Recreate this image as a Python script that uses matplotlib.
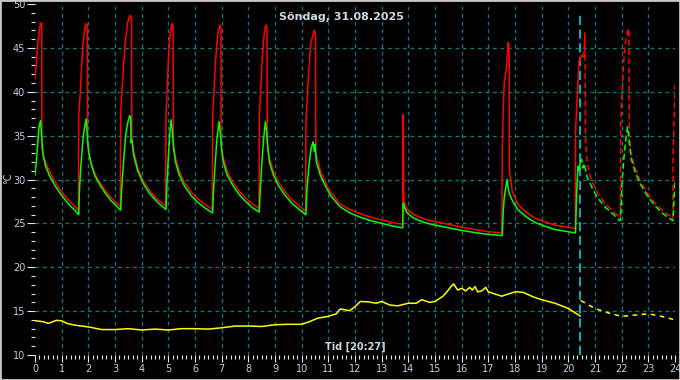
#!/usr/bin/env python

import numpy as np
import matplotlib
matplotlib.use("Agg")
import matplotlib.pyplot as plt
from matplotlib.ticker import MultipleLocator
from matplotlib.patches import Rectangle

# current time 20:27 -> data after this is drawn dashed
NOW = 20.45
title = "Söndag, 31.08.2025"
xlabel = "Tid [20:27]"
ylabel = "°C"

# (hour, degC)
red = [
    (0.0, 41.5), (0.05, 43.0), (0.1, 45.5), (0.15, 46.5), (0.2, 47.8), (0.25, 47.8), (0.26, 33.5),
    (0.35, 32.4), (0.5, 31.2), (0.7, 30.0), (0.9, 29.0), (1.1, 28.2), (1.3, 27.5), (1.5, 26.9), (1.63, 26.5),
    (1.64, 37.3), (1.7, 40.0), (1.75, 43.0), (1.8, 45.5), (1.87, 47.3), (1.92, 47.8), (1.96, 47.6), (1.97, 34.0),
    (2.05, 32.6), (2.2, 31.0), (2.4, 29.8), (2.6, 28.9), (2.8, 28.1), (3.0, 27.5), (3.2, 26.9),
    (3.21, 37.5), (3.27, 40.5), (3.33, 43.5), (3.4, 46.0), (3.47, 47.8), (3.53, 48.5), (3.58, 48.7), (3.62, 48.4),
    (3.63, 35.0), (3.7, 33.2), (3.85, 31.3), (4.05, 29.9), (4.3, 28.7), (4.6, 27.7), (4.9, 27.0),
    (4.91, 37.0), (4.96, 40.5), (5.0, 43.5), (5.05, 46.0), (5.1, 47.2), (5.14, 47.8), (5.18, 47.5), (5.19, 34.0),
    (5.27, 32.5), (5.4, 31.0), (5.6, 29.7), (5.85, 28.6), (6.1, 27.8), (6.4, 27.1), (6.65, 26.6),
    (6.66, 37.0), (6.71, 40.0), (6.76, 43.0), (6.82, 45.5), (6.88, 47.0), (6.94, 47.6), (6.97, 47.3), (6.98, 34.0),
    (7.06, 32.5), (7.2, 31.0), (7.4, 29.8), (7.65, 28.7), (7.9, 27.9), (8.15, 27.2), (8.4, 26.7),
    (8.41, 37.0), (8.46, 40.0), (8.51, 43.0), (8.56, 45.5), (8.61, 47.0), (8.66, 47.6), (8.7, 47.3), (8.71, 34.0),
    (8.79, 32.5), (8.93, 31.0), (9.13, 29.7), (9.38, 28.6), (9.63, 27.7), (9.9, 27.0), (10.15, 26.4),
    (10.16, 36.5), (10.22, 40.0), (10.28, 43.0), (10.34, 45.5), (10.4, 46.2), (10.47, 47.0), (10.52, 46.5),
    (10.53, 33.0), (10.7, 31.0), (10.9, 29.6), (11.1, 28.5), (11.44, 27.2), (11.8, 26.6), (12.2, 26.1),
    (12.6, 25.7), (13.0, 25.4), (13.4, 25.1), (13.79, 24.9),
    (13.8, 37.4), (13.81, 37.4), (13.83, 27.6), (13.95, 26.6), (14.2, 26.0), (14.6, 25.5), (15.0, 25.2),
    (15.5, 24.9), (16.0, 24.55), (16.5, 24.3), (17.0, 24.05), (17.51, 23.9),
    (17.52, 33.1), (17.56, 38.0), (17.6, 41.3), (17.65, 42.0), (17.7, 43.5), (17.74, 45.6), (17.78, 45.0),
    (17.79, 31.0), (17.9, 28.6), (18.1, 27.2), (18.4, 26.3), (18.75, 25.6), (19.1, 25.2), (19.5, 24.8),
    (19.9, 24.6), (20.26, 24.45),
    (20.27, 35.3), (20.31, 38.0), (20.36, 41.0), (20.4, 43.4), (20.45, 43.8), (20.5, 44.2), (20.58, 43.8),
    (20.62, 46.7), (20.65, 34.2), (20.7, 32.0), (20.8, 30.5), (20.95, 29.3), (21.15, 28.2), (21.4, 27.2),
    (21.7, 26.3), (21.95, 25.6),
    (21.96, 36.0), (22.0, 39.0), (22.05, 42.0), (22.1, 44.5), (22.15, 45.8), (22.22, 46.8), (22.27, 47.2),
    (22.29, 35.0), (22.35, 33.0), (22.5, 31.3), (22.7, 29.8), (22.95, 28.5), (23.25, 27.3), (23.55, 26.4),
    (23.92, 25.6), (23.93, 33.0), (23.97, 37.0), (24.0, 40.8),
]

green = [
    (0.0, 30.5), (0.05, 32.0), (0.1, 34.0), (0.15, 36.0), (0.21, 36.7), (0.25, 35.0), (0.3, 32.8),
    (0.4, 31.5), (0.55, 30.4), (0.75, 29.3), (0.95, 28.4), (1.15, 27.6), (1.35, 26.9), (1.5, 26.5), (1.63, 26.0),
    (1.64, 26.0), (1.67, 29.0), (1.72, 31.5), (1.78, 34.0), (1.85, 35.8), (1.92, 36.9), (1.97, 34.5),
    (2.02, 33.0), (2.1, 31.8), (2.25, 30.4), (2.45, 29.3), (2.65, 28.4), (2.85, 27.6), (3.05, 27.0), (3.2, 26.5),
    (3.21, 26.5), (3.25, 29.0), (3.32, 32.0), (3.4, 35.0), (3.48, 36.5), (3.55, 37.3), (3.59, 37.0),
    (3.6, 34.2), (3.63, 34.5), (3.7, 32.8), (3.85, 31.0), (4.05, 29.6), (4.3, 28.4), (4.6, 27.4), (4.9, 26.6),
    (4.91, 26.6), (4.95, 29.5), (5.0, 32.5), (5.05, 35.0), (5.1, 36.8), (5.15, 35.5), (5.2, 33.5),
    (5.27, 32.0), (5.4, 30.6), (5.6, 29.3), (5.85, 28.2), (6.1, 27.4), (6.4, 26.7), (6.65, 26.2),
    (6.66, 26.2), (6.7, 29.0), (6.76, 32.0), (6.82, 34.5), (6.9, 36.6), (6.95, 35.3), (7.0, 33.3),
    (7.06, 32.0), (7.2, 30.6), (7.4, 29.4), (7.65, 28.3), (7.9, 27.5), (8.15, 26.8), (8.4, 26.3),
    (8.41, 26.3), (8.45, 29.0), (8.51, 32.0), (8.57, 34.5), (8.64, 36.6), (8.69, 35.3), (8.74, 33.3),
    (8.79, 32.0), (8.93, 30.6), (9.13, 29.3), (9.38, 28.2), (9.63, 27.3), (9.9, 26.6), (10.15, 26.0),
    (10.16, 26.0), (10.2, 29.0), (10.27, 31.5), (10.35, 33.5), (10.43, 34.3), (10.47, 33.2), (10.5, 34.0),
    (10.55, 32.0), (10.7, 30.5), (10.9, 29.2), (11.1, 28.1), (11.44, 26.9), (11.8, 26.2), (12.2, 25.7),
    (12.6, 25.3), (13.0, 25.0), (13.4, 24.7), (13.79, 24.5),
    (13.8, 27.2), (13.82, 27.3), (13.86, 26.8), (13.95, 26.2), (14.2, 25.6), (14.6, 25.1), (15.0, 24.8),
    (15.5, 24.5), (16.0, 24.2), (16.5, 23.95), (17.0, 23.75), (17.51, 23.6),
    (17.52, 23.6), (17.56, 26.5), (17.6, 28.0), (17.65, 29.0), (17.7, 30.0), (17.75, 28.8), (17.8, 28.3),
    (17.9, 27.6), (18.1, 26.6), (18.4, 25.8), (18.75, 25.1), (19.1, 24.7), (19.5, 24.3), (19.9, 24.1),
    (20.26, 23.9),
    (20.27, 24.0), (20.31, 28.4), (20.36, 31.5), (20.4, 31.0), (20.45, 32.0), (20.5, 32.3), (20.55, 31.3),
    (20.6, 31.8), (20.7, 30.3), (20.9, 29.0), (21.1, 27.9), (21.4, 26.8), (21.7, 26.0), (21.93, 25.3),
    (21.96, 25.4), (22.02, 30.0), (22.1, 33.0), (22.17, 35.0), (22.22, 36.0), (22.28, 34.5), (22.35, 32.5),
    (22.5, 30.9), (22.7, 29.5), (22.95, 28.2), (23.25, 27.0), (23.55, 26.1), (23.92, 25.3),
    (23.93, 25.5), (23.97, 28.0), (24.0, 29.8),
]

yellow = [
    (0.0, 13.9), (0.3, 13.8), (0.5, 13.6), (0.8, 13.95), (1.0, 13.9), (1.2, 13.6), (1.5, 13.4), (2.0, 13.2),
    (2.5, 12.9), (3.0, 12.9), (3.5, 13.0), (4.0, 12.85), (4.5, 12.95), (5.0, 12.85), (5.5, 13.0), (6.0, 13.0),
    (6.5, 12.95), (7.0, 13.1), (7.5, 13.3), (8.0, 13.3), (8.5, 13.25), (9.0, 13.45), (9.5, 13.5), (10.0, 13.5),
    (10.3, 13.8), (10.6, 14.2), (11.0, 14.4), (11.3, 14.7), (11.45, 15.25), (11.8, 15.05), (12.0, 15.5),
    (12.2, 16.1), (12.5, 16.05), (12.8, 15.9), (13.0, 16.1), (13.3, 15.7), (13.6, 15.6), (14.0, 15.9),
    (14.3, 15.9), (14.5, 16.3), (14.8, 16.0), (15.0, 16.1), (15.3, 16.7), (15.5, 17.4), (15.6, 17.8),
    (15.7, 18.1), (15.85, 17.4), (16.0, 17.6), (16.15, 17.3), (16.3, 17.7), (16.4, 17.4), (16.5, 17.8),
    (16.6, 17.2), (16.75, 17.3), (16.9, 17.7), (17.0, 17.2), (17.2, 17.0), (17.5, 16.7), (17.8, 17.0),
    (18.0, 17.2), (18.3, 17.15), (18.7, 16.6), (19.0, 16.3), (19.5, 15.9), (20.0, 15.3), (20.44, 14.45),
    (20.47, 16.2), (21.0, 15.3), (21.5, 14.8), (22.0, 14.4), (22.5, 14.55), (23.0, 14.7), (23.5, 14.4),
    (24.0, 14.0),
]

series = [(red, "#ff0000"), (green, "#00ff00"), (yellow, "#ffff00")]

txtcol = "#c4d0e4"
gridcol = "#008080"

fig = plt.figure(figsize=(6.8, 3.8), dpi=100, facecolor="black")
ax = fig.add_axes([35/680, 1-355/380, 640/680, 351/380])
ax.set_facecolor("black")

# grid only on the inner lines, not on the frame edges
for h in range(1, 24):
    ax.axvline(h, color=gridcol, ls=(0, (3, 3)), lw=0.9)
for d in range(15, 50, 5):
    ax.axhline(d, color=gridcol, ls=(0, (3, 3)), lw=0.9)
ax.axvline(NOW, ymax=0.975, color="#00e5ee", ls=(0, (6, 3)), lw=1.1)

for dat, col in series:
    t = np.array([p[0] for p in dat])
    v = np.array([p[1] for p in dat])
    m = t <= NOW
    ax.plot(t[m], v[m], color=col, lw=1.1)
    m = t >= NOW
    if col == "#ffff00":
        ax.plot(t[m], v[m], color=col, lw=1.1, ls=(0, (3, 3)))
    else:
        ax.plot(t[m], v[m], color=col, lw=1.1, ls=(0, (4, 2)))

ax.set_xlim(0, 24)
ax.set_ylim(10, 50)
ax.set_xticks(range(0, 25))
ax.set_yticks(range(10, 51, 5))
ax.xaxis.set_minor_locator(MultipleLocator(1/6))
ax.yaxis.set_minor_locator(MultipleLocator(1))
for s in ax.spines.values():
    s.set_visible(False)
ax.tick_params(which="major", axis="x", length=5, width=0.8, color="#e8e8e8", pad=1.5,
    labelcolor=txtcol, labelsize=7)
ax.tick_params(which="minor", axis="x", length=2.6, width=0.8, color="#e8e8e8")
ax.tick_params(which="major", axis="y", length=6, width=0.8, color="#e8e8e8", pad=1,
    labelcolor=txtcol, labelsize=7)
ax.tick_params(which="minor", axis="y", length=3, width=0.8, color="#e8e8e8")

fig.text(341/680, 1-17/380, title, ha="center", va="center", color="#d0d8e4",
    fontsize=8, fontweight="bold")
fig.text(355/680, 1-347/380, xlabel, ha="center", va="center", color="#d0d8e4",
    fontsize=7, fontweight="bold")
fig.text(8/680, 1-178/380, ylabel, ha="center", va="center", color=txtcol,
    fontsize=7, rotation=90)

fig.patches.append(Rectangle((0, 0), 1, 1, transform=fig.transFigure, fill=False,
    edgecolor="#c8c8c8", lw=2))

fig.savefig("out.png", dpi=100, facecolor="black")
plt.close()
